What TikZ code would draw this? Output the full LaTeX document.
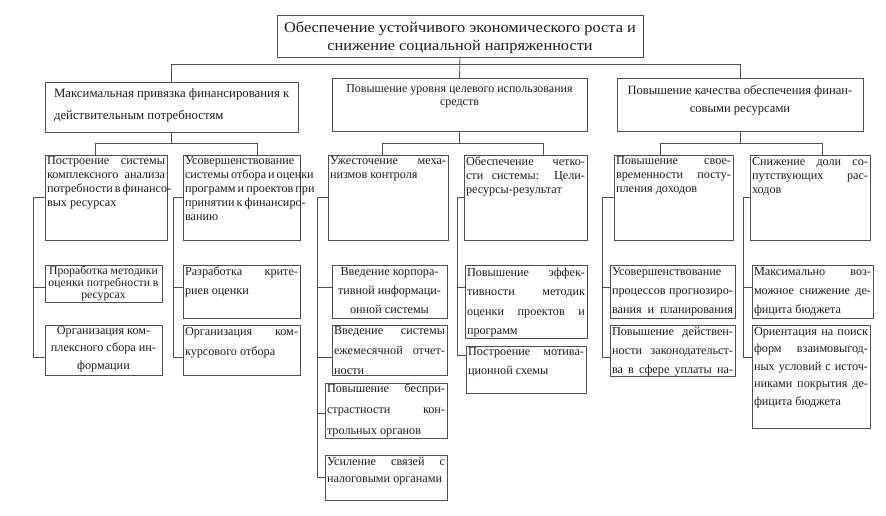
\documentclass[tikz,border=0pt]{standalone}
\usepackage{fontspec}
\setmainfont{Liberation Serif}
\newfontfamily\topfont{Liberation Serif}[FakeStretch=1.09]
\usetikzlibrary{calc}
\definecolor{ln}{HTML}{505050}
\definecolor{tx}{HTML}{1E1E1E}
\newcommand\lineJ[1]{\hbox to\hsize{#1}}
\newcommand\lineL[1]{\hbox to\hsize{#1\hfil}}
\newcommand\lineC[1]{\hbox to\hsize{\hfil#1\hfil}}
\newcommand\fA{\fontsize{12.2}{14}\selectfont\vspace*{1pt}}
\newcommand\fB[1]{\fontsize{12.2}{#1}\selectfont}
\newcommand\bx[7]{%
  \node[box, minimum width=#4pt, minimum height=#5pt] (#1) at (#2,#3)
  {\parbox[c][\dimexpr#5pt-2pt\relax][t]{\dimexpr#4pt-4pt\relax}{#6#7}};}
\tikzset{
  box/.style={draw=ln, line width=0.8pt, anchor=north west, inner xsep=2pt, inner ysep=1pt, text=tx, outer sep=0pt},
  conn/.style={draw=ln, line width=0.8pt}
}
\begin{document}
\begin{tikzpicture}[x=1pt, y=-1pt]
\useasboundingbox (0,0) rectangle (886,515);
% top
\bx{top}{277}{15}{366}{42}{\topfont\fontsize{15}{18}\selectfont\vspace*{6pt}}{%
\lineC{Обеспечение устойчивого экономического роста и}
\lineC{снижение социальной напряженности}}
% level 1
\bx{La}{45}{82}{253}{50}{\fontsize{12.8}{22}\selectfont\vspace*{6pt}}{%
\lineL{\hskip7pt Максимальная привязка финансирования к}
\lineL{\hskip7pt действительным потребностям}}
\bx{Lb}{332}{78}{255}{53}{\fontsize{12}{13}\selectfont\vspace*{6pt}}{%
\lineC{Повышение уровня целевого использования}
\lineC{средств}}
\bx{Lc}{617}{78}{246}{53}{\fontsize{12.6}{18}\selectfont\vspace*{6pt}}{%
\lineC{Повышение качества обеспечения финан-}
\lineC{совыми ресурсами}}
% level 2
\bx{A1}{45}{155}{122}{85}{\fA}{%
\lineJ{Построение системы}
\lineJ{комплексного анализа}
\lineJ{потребности в финансо-}
\lineL{вых ресурсах}}
\bx{A2}{183}{155}{117}{85}{\fA}{%
\lineL{Усовершенствование}
\lineJ{системы отбора и оценки}
\lineJ{программ и проектов при}
\lineJ{принятии к финансиро-}
\lineL{ванию}}
\bx{B1}{328}{155}{120}{85}{\fA}{%
\lineJ{Ужесточение меха-}
\lineL{низмов контроля}}
\bx{B2}{464}{155}{123}{85}{\fA}{%
\lineJ{Обеспечение четко-}
\lineJ{сти системы: Цели-}
\lineL{ресурсы-результат}}
\bx{C1}{614}{155}{119}{85}{\fA}{%
\lineJ{Повышение свое-}
\lineJ{временности посту-}
\lineL{пления доходов}}
\bx{C2}{750}{155}{120}{85}{\fA}{%
\lineJ{Снижение доли со-}
\lineJ{путствующих рас-}
\lineL{ходов}}
% level 3
\bx{A1a}{45}{265}{117}{37}{\fontsize{11.7}{12}\selectfont}{%
\lineC{Проработка методики}
\lineC{оценки потребности в}
\lineC{ресурсах}}
\bx{A1b}{45}{325}{117}{50}{\fB{17.5}}{%
\lineC{Организация ком-}
\lineC{плексного сбора ин-}
\lineC{формации}}
\bx{A2a}{183}{265}{117}{53}{\fB{19}\vspace*{1pt}}{%
\lineJ{Разработка крите-}
\lineL{риев оценки}}
\bx{A2b}{183}{325}{117}{50}{\fB{20}\vspace*{1pt}}{%
\lineJ{Организация ком-}
\lineL{курсового отбора}}
\bx{B1a}{332}{265}{115}{53}{\fB{19}\vspace*{2pt}}{%
\lineC{Введение корпора-}
\lineC{тивной информаци-}
\lineC{онной системы}}
\bx{B1b}{332}{325}{115}{50}{\fB{20}\vspace*{1pt}}{%
\lineJ{Введение системы}
\lineJ{ежемесячной отчет-}
\lineL{ности}}
\bx{B1c}{325}{383}{122}{55}{\fB{21}}{%
\lineJ{Повышение беспри-}
\lineJ{страстности кон-}
\lineL{трольных органов}}
\bx{B1d}{325}{455}{122}{45}{\fB{17}\vspace*{1pt}}{%
\lineJ{Усиление связей с}
\lineL{налоговыми органами}}
\bx{B2a}{465}{265}{122}{73}{\fB{19.5}\vspace*{2pt}}{%
\lineJ{Повышение эффек-}
\lineJ{тивности методик}
\lineJ{оценки проектов и}
\lineL{программ}}
\bx{B2b}{466}{346}{120}{47}{\fB{19}\vspace*{1pt}}{%
\lineJ{Построение мотива-}
\lineL{ционной схемы}}
\bx{C1a}{610}{265}{125}{53}{\fB{19}\vspace*{2pt}}{%
\lineL{Усовершенствование}
\lineJ{процессов прогнозиро-}
\lineJ{вания и планирования}}
\bx{C1b}{610}{325}{125}{51}{\fB{19}\vspace*{1pt}}{%
\lineJ{Повышение действен-}
\lineJ{ности законодательст-}
\lineJ{ва в сфере уплаты на-}}
\bx{C2a}{752}{265}{121}{53}{\fB{19}\vspace*{2pt}}{%
\lineJ{Максимально воз-}
\lineJ{можное снижение де-}
\lineL{фицита бюджета}}
\bx{C2b}{752}{325}{118}{103}{\fB{17.5}\vspace*{1pt}}{%
\lineJ{Ориентация на поиск}
\lineJ{форм взаимовыгод-}
\lineJ{ных условий с источ-}
\lineJ{никами покрытия де-}
\lineL{фицита бюджета}}
% connectors: top to level 1
\coordinate (bus) at (0,64);
\coordinate (h2) at (0,143);
\draw[conn] (top.south) -- (Lb.north);
\draw[conn] (La.north) -- (La.north |- bus) -- (Lc.north |- bus) -- (Lc.north);
% level 1 to level 2
\draw[conn] (La.south) -- (La.south |- h2);
\draw[conn] ([xshift=-11pt]A1.north) -- ([xshift=-11pt]A1.north |- h2) -- ([xshift=15.5pt]A2.north |- h2) -- ([xshift=15.5pt]A2.north);
\draw[conn] (Lb.south) -- (Lb.south |- h2);
\draw[conn] ([xshift=-6pt]B1.north) -- ([xshift=-6pt]B1.north |- h2) -- ([xshift=17.5pt]B2.north |- h2) -- ([xshift=17.5pt]B2.north);
\draw[conn] (Lc.south) -- (Lc.south |- h2);
\draw[conn] ([xshift=-13.5pt]C1.north) -- ([xshift=-13.5pt]C1.north |- h2) -- ([xshift=12pt]C2.north |- h2) -- ([xshift=12pt]C2.north);
% level 2 to level 3 (side trees)
\coordinate (sA1a) at ($(A1a.north west)+(0,22)$);
\coordinate (sA1b) at ($(A1b.north west)+(0,32)$);
\coordinate (sA2a) at ($(A2a.north west)+(0,22)$);
\coordinate (sA2b) at ($(A2b.north west)+(0,32)$);
\coordinate (sB1a) at ($(B1a.north west)+(0,22)$);
\coordinate (sB1b) at ($(B1b.north west)+(0,32)$);
\coordinate (sB1c) at ($(B1c.north west)+(0,30)$);
\coordinate (sB1d) at ($(B1d.north west)+(0,22)$);
\coordinate (sB2a) at ($(B2a.north west)+(0,22)$);
\coordinate (sB2b) at ($(B2b.north west)+(0,9)$);
\coordinate (sC1a) at ($(C1a.north west)+(0,22)$);
\coordinate (sC1b) at ($(C1b.north west)+(0,32)$);
\coordinate (sC2a) at ($(C2a.north west)+(0,22)$);
\coordinate (sC2b) at ($(C2b.north west)+(0,32)$);
\draw[conn] (A1.west) -- ++(-12,0) coordinate (vA1) |- (sA1b);
\draw[conn] (vA1 |- sA1a) -- (sA1a);
\draw[conn] (A2.west) -- ++(-10,0) coordinate (vA2) |- (sA2b);
\draw[conn] (vA2 |- sA2a) -- (sA2a);
\draw[conn] (B1.west) -- ++(-11,0) coordinate (vB1) |- (sB1d);
\draw[conn] (vB1 |- sB1a) -- (sB1a);
\draw[conn] (vB1 |- sB1b) -- (sB1b);
\draw[conn] (vB1 |- sB1c) -- (sB1c);
\draw[conn] (B2.west) -- ++(-7,0) coordinate (vB2) |- (sB2b);
\draw[conn] (vB2 |- sB2a) -- (sB2a);
\draw[conn] (C1.west) -- ++(-12,0) coordinate (vC1) |- (sC1b);
\draw[conn] (vC1 |- sC1a) -- (sC1a);
\draw[conn] (C2.west) -- ++(-7,0) coordinate (vC2) |- (sC2b);
\draw[conn] (vC2 |- sC2a) -- (sC2a);
\end{tikzpicture}
\end{document}
